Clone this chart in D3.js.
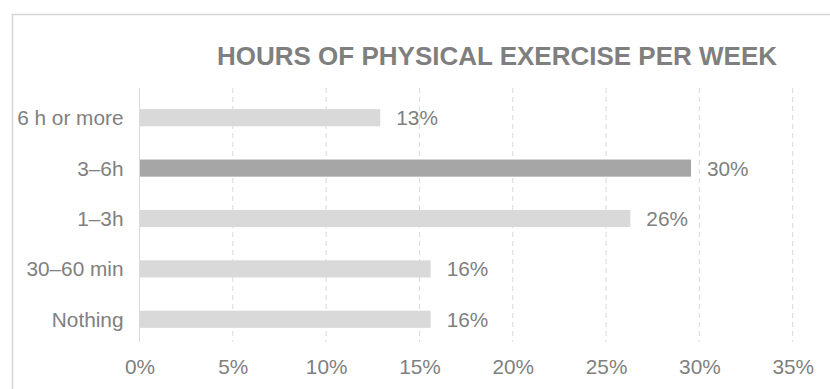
<!DOCTYPE html>
<html>
<head>
<meta charset="utf-8">
<script src="https://cdn.jsdelivr.net/npm/d3@7"></script>
<style>
  html, body { margin: 0; padding: 0; background: #fff; }
  svg { display: block; font-family: Arial, "Liberation Sans", sans-serif; }
</style>
</head>
<body>
<svg id="chart" width="830" height="389"></svg>
<script>
// Share of respondents by weekly hours of physical exercise
const categories = ["6 h or more", "3–6h", "1–3h", "30–60 min", "Nothing"];
const shares = [0.129, 0.2955, 0.263, 0.156, 0.156];
const highlighted = "3–6h";
const tickValues = [0, 0.05, 0.10, 0.15, 0.20, 0.25, 0.30, 0.35];
const title = "HOURS OF PHYSICAL EXERCISE PER WEEK";

const svg = d3.select("#chart");
const textColor = "#808080";
const gridColor = "#d9d9d9";
const labelSize = 20.8;

// Outer frame (runs off the right and bottom edges)
svg.append("rect")
  .attr("x", 12.5).attr("y", 14.5)
  .attr("width", 900).attr("height", 500)
  .attr("fill", "none").attr("stroke", "#d4d4d4").attr("stroke-width", 1.5);

const plot = { left: 139.5, right: 792.7, top: 90, bottom: 342 };

const x = d3.scaleLinear().domain([0, 0.35]).range([plot.left, plot.right]);
const y = d3.scaleBand().domain(categories).range([plot.top + 2.5, plot.bottom + 2.5]).paddingInner(0.66).paddingOuter(0.33);

// Title
svg.append("text")
  .attr("x", 217).attr("y", 65)
  .attr("font-size", 26).attr("font-weight", "bold")
  .attr("fill", "#7f7f7f")
  .text(title);

// Dashed vertical gridlines
svg.append("g")
  .selectAll("line")
  .data(tickValues.filter(d => d > 0))
  .join("line")
  .attr("x1", d => x(d)).attr("x2", d => x(d))
  .attr("y1", plot.top - 2).attr("y2", plot.bottom)
  .attr("stroke", gridColor).attr("stroke-width", 1)
  .attr("stroke-dasharray", "5,4");

// X axis tick labels
const xAxis = d3.axisBottom(x)
  .tickValues(tickValues)
  .tickFormat(d3.format(".0%"))
  .tickSize(0)
  .tickPadding(0);
const gx = svg.append("g")
  .attr("transform", `translate(0,${plot.bottom + 17})`)
  .call(xAxis);
gx.select(".domain").remove();
gx.selectAll("text")
  .attr("font-size", labelSize)
  .attr("font-family", "Arial, 'Liberation Sans', sans-serif")
  .attr("fill", textColor);

// Category axis
const yAxis = d3.axisLeft(y).tickSize(0).tickPadding(16);
const gy = svg.append("g")
  .attr("transform", `translate(${plot.left},0)`)
  .call(yAxis);
gy.select(".domain").remove();
gy.selectAll("text")
  .attr("font-size", labelSize)
  .attr("font-family", "Arial, 'Liberation Sans', sans-serif")
  .attr("fill", textColor)
  .attr("dy", "0.36em");

// Bars
const rows = categories.map((c, i) => ({ category: c, value: shares[i] }));
svg.append("g")
  .selectAll("rect")
  .data(rows)
  .join("rect")
  .attr("x", x(0))
  .attr("y", d => y(d.category))
  .attr("width", d => x(d.value) - x(0))
  .attr("height", y.bandwidth())
  .attr("fill", d => d.category === highlighted ? "#a6a6a6" : "#d9d9d9");

// Solid baseline at 0%
svg.append("line")
  .attr("x1", x(0)).attr("x2", x(0))
  .attr("y1", plot.top - 2).attr("y2", plot.bottom)
  .attr("stroke", gridColor).attr("stroke-width", 1);

// Value labels
svg.append("g")
  .selectAll("text")
  .data(rows)
  .join("text")
  .attr("x", d => x(d.value) + 16)
  .attr("y", d => y(d.category) + y.bandwidth() / 2)
  .attr("dy", "0.36em")
  .attr("font-size", labelSize)
  .attr("fill", textColor)
  .text(d => d3.format(".0%")(d.value));
</script>
</body>
</html>
